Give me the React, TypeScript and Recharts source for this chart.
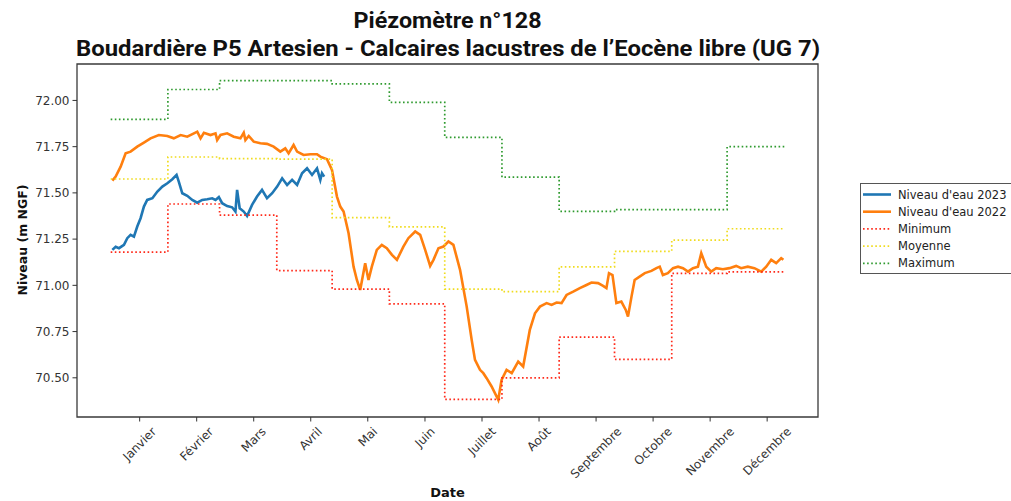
import React from "react";
import { LineChart, Line, XAxis, YAxis, ReferenceArea } from "recharts";

// ---- Data (x = day of year, 0 = 1 January) ----
const monthLabels = ["Janvier", "Février", "Mars", "Avril", "Mai", "Juin", "Juillet", "Août", "Septembre", "Octobre", "Novembre", "Décembre"];
const tickDays = [15.7, 46.6, 77.5, 108.4, 139.3, 170.3, 201.2, 232.1, 263.0, 293.9, 324.8, 355.7];
const monthStartDays = [0, 31, 59, 90, 120, 151, 181, 212, 243, 273, 304, 334, 365];

const minValues = [71.18, 71.44, 71.38, 71.08, 70.98, 70.90, 70.383, 70.50, 70.72, 70.60, 71.065, 71.073];
const meanValues = [71.575, 71.694, 71.685, 71.683, 71.366, 71.316, 70.98, 70.966, 71.10, 71.184, 71.244, 71.306];
const maxValues = [71.898, 72.059, 72.107, 72.107, 72.09, 71.99, 71.80, 71.585, 71.40, 71.41, 71.41, 71.75];

const level2022Days = [0.9, 2.7, 5.4, 8.1, 10.8, 14.4, 18.0, 21.6, 26.1, 30.7, 34.2, 37.9, 41.5, 45.1, 46.9, 48.7, 50.5, 54.1, 56.8, 57.7, 59.5, 63.1, 66.7, 70.3, 72.1, 73.0, 74.8, 77.5, 81.1, 84.7, 88.3, 91.9, 94.6, 96.4, 99.1, 101.0, 104.5, 108.2, 111.8, 113.6, 117.2, 119.9, 122.6, 124.4, 126.2, 128.9, 131.6, 133.4, 135.2, 137.9, 139.7, 141.5, 144.2, 146.9, 149.6, 152.4, 155.1, 158.6, 161.3, 165.0, 167.7, 170.4, 173.1, 174.9, 177.6, 180.3, 183.0, 185.7, 189.3, 192.9, 195.6, 197.4, 200.1, 201.9, 203.7, 206.4, 210.0, 211.8, 214.5, 217.3, 220.8, 223.5, 227.1, 229.9, 232.6, 236.2, 238.9, 241.6, 244.3, 247.0, 250.6, 254.2, 257.8, 260.5, 264.1, 266.8, 268.6, 270.0, 271.9, 274.0, 276.7, 279.1, 280.3, 282.2, 283.9, 286.6, 289.4, 293.0, 295.7, 297.5, 299.2, 301.9, 304.7, 307.4, 310.1, 312.8, 315.5, 318.2, 320.0, 322.7, 325.4, 328.1, 331.7, 335.3, 338.9, 341.6, 345.2, 348.8, 352.5, 355.2, 357.9, 360.6, 363.3, 364.5];
const level2022Values = [71.566, 71.588, 71.642, 71.714, 71.723, 71.75, 71.772, 71.795, 71.813, 71.808, 71.795, 71.813, 71.804, 71.822, 71.831, 71.795, 71.825, 71.813, 71.822, 71.786, 71.813, 71.822, 71.804, 71.795, 71.825, 71.786, 71.808, 71.777, 71.768, 71.765, 71.75, 71.723, 71.741, 71.714, 71.759, 71.723, 71.705, 71.709, 71.709, 71.696, 71.682, 71.624, 71.48, 71.426, 71.399, 71.282, 71.101, 71.029, 70.975, 71.12, 71.029, 71.101, 71.192, 71.219, 71.201, 71.165, 71.138, 71.209, 71.255, 71.291, 71.273, 71.192, 71.105, 71.138, 71.201, 71.21, 71.237, 71.219, 71.084, 70.885, 70.705, 70.597, 70.543, 70.525, 70.498, 70.453, 70.381, 70.489, 70.543, 70.525, 70.588, 70.561, 70.759, 70.849, 70.885, 70.904, 70.894, 70.907, 70.904, 70.948, 70.966, 70.985, 71.002, 71.015, 71.012, 70.997, 70.985, 71.066, 71.056, 70.904, 70.912, 70.867, 70.831, 70.939, 71.029, 71.047, 71.066, 71.078, 71.093, 71.101, 71.056, 71.066, 71.093, 71.101, 71.093, 71.074, 71.093, 71.101, 71.174, 71.101, 71.074, 71.093, 71.087, 71.093, 71.105, 71.093, 71.101, 71.093, 71.074, 71.101, 71.138, 71.12, 71.147, 71.138];

const level2023Days = [0.9, 2.7, 4.5, 7.2, 9.0, 10.8, 12.6, 14.4, 16.2, 18.0, 19.8, 22.6, 25.3, 28.0, 30.7, 33.4, 35.7, 36.9, 38.8, 41.5, 44.2, 46.9, 49.6, 52.3, 55.0, 56.8, 58.6, 60.4, 63.1, 65.8, 67.6, 68.5, 69.9, 72.1, 73.9, 76.6, 79.3, 82.0, 84.7, 87.5, 90.2, 92.9, 95.6, 98.3, 101.0, 103.7, 106.4, 109.1, 111.8, 113.6, 114.5, 115.7];
const level2023Values = [71.192, 71.209, 71.201, 71.219, 71.255, 71.273, 71.263, 71.318, 71.363, 71.426, 71.462, 71.471, 71.507, 71.534, 71.552, 71.574, 71.597, 71.561, 71.498, 71.484, 71.462, 71.447, 71.462, 71.466, 71.471, 71.462, 71.477, 71.444, 71.429, 71.422, 71.399, 71.516, 71.417, 71.399, 71.375, 71.435, 71.48, 71.516, 71.471, 71.498, 71.534, 71.579, 71.543, 71.57, 71.543, 71.606, 71.633, 71.597, 71.633, 71.57, 71.606, 71.588];

const yTicks = [70.5, 70.75, 71.0, 71.25, 71.5, 71.75, 72.0];
const xDomain: [number, number] = [-18.25, 383.25];
const yDomain: [number, number] = [70.288, 72.197];

// ---- build series ----
const toPoints = (xs: number[], ys: number[]) => xs.map((d, i) => ({ d, v: ys[i] }));
const toSteps = (vals: number[]) =>
  monthStartDays.map((d, i) => ({ d, v: vals[Math.min(i, vals.length - 1)] }));

const data2022 = toPoints(level2022Days, level2022Values);
const data2023 = toPoints(level2023Days, level2023Values);
const dataMin = toSteps(minValues);
const dataMean = toSteps(meanValues);
const dataMax = toSteps(maxValues);

const C_BLUE = "#1f77b4";
const C_ORANGE = "#ff7f0e";
const C_RED = "#ff2a1a";
const C_YELLOW = "#f0dc1e";
const C_GREEN = "#2e9a2e";

const TICK_FS = 12;
const TICK_FONT = `"DejaVu Sans", sans-serif`;

let measureCtx: CanvasRenderingContext2D | null = null;
const measure = (s: string) => {
  if (!measureCtx) {
    const c = document.createElement("canvas");
    measureCtx = c.getContext("2d");
  }
  if (!measureCtx) return s.length * TICK_FS * 0.6;
  measureCtx.font = `${TICK_FS}px "DejaVu Sans"`;
  return measureCtx.measureText(s).width;
};

const XTick = (props: any) => {
  const { x, y, payload } = props;
  const idx = tickDays.indexOf(payload.value);
  const label = idx >= 0 ? monthLabels[idx] : "";
  const w = measure(label);
  const h = TICK_FS * 1.17;
  const boxH = (w + h) * Math.SQRT1_2;
  const cy = y + boxH / 2;
  return (
    <text
      x={x}
      y={cy}
      textAnchor="middle"
      dominantBaseline="central"
      fontSize={TICK_FS}
      fontFamily={TICK_FONT}
      fill="#333"
      transform={`rotate(-45, ${x}, ${cy})`}
    >
      {label}
    </text>
  );
};

const legendItems = [
  { label: "Niveau d'eau 2023", color: C_BLUE, dotted: false },
  { label: "Niveau d'eau 2022", color: C_ORANGE, dotted: false },
  { label: "Minimum", color: C_RED, dotted: true },
  { label: "Moyenne", color: C_YELLOW, dotted: true },
  { label: "Maximum", color: C_GREEN, dotted: true },
];

export default function App() {
  return (
    <div style={{ position: "absolute", left: 0, top: 0, width: 1011, height: 501, overflow: "hidden", background: "#fff" }}>
      <LineChart
        width={1011}
        height={501}
        margin={{ top: 64, right: 193, bottom: 0, left: 17 }}
      >
        <XAxis
          dataKey="d"
          type="number"
          domain={xDomain}
          ticks={tickDays}
          allowDataOverflow
          height={84}
          axisLine={false}
          tickLine={{ stroke: "#333", strokeWidth: 1 }}
          tickSize={4.5}
          tickMargin={3}
          tick={<XTick />}
          interval={0}
        />
        <YAxis
          type="number"
          domain={yDomain}
          ticks={yTicks}
          allowDataOverflow
          width={60}
          axisLine={false}
          tickLine={{ stroke: "#333", strokeWidth: 1 }}
          tickSize={4.5}
          tickMargin={3}
          tickFormatter={(v: number) => v.toFixed(2)}
          tick={{ fontSize: TICK_FS, fontFamily: TICK_FONT, fill: "#333" }}
          interval={0}
        />
        <ReferenceArea
          x1={xDomain[0]}
          x2={xDomain[1]}
          y1={yDomain[0]}
          y2={yDomain[1]}
          fill="none"
          fillOpacity={0}
          stroke="#3a3a3a"
          strokeWidth={1.3}
        />
        <Line data={data2023} dataKey="v" type="linear" stroke={C_BLUE} strokeWidth={2.6} dot={false} isAnimationActive={false} />
        <Line data={data2022} dataKey="v" type="linear" stroke={C_ORANGE} strokeWidth={2.6} dot={false} isAnimationActive={false} />
        <Line data={dataMin} dataKey="v" type="stepAfter" stroke={C_RED} strokeWidth={1.7} strokeDasharray="1.6 2.5" dot={false} isAnimationActive={false} />
        <Line data={dataMean} dataKey="v" type="stepAfter" stroke={C_YELLOW} strokeWidth={1.7} strokeDasharray="1.6 2.5" dot={false} isAnimationActive={false} />
        <Line data={dataMax} dataKey="v" type="stepAfter" stroke={C_GREEN} strokeWidth={1.7} strokeDasharray="1.6 2.5" dot={false} isAnimationActive={false} />
      </LineChart>

      <svg width={1011} height={501} style={{ position: "absolute", left: 0, top: 0, pointerEvents: "none" }}>
        <text x={447.5} y={28} textAnchor="middle" fontFamily="Roboto, sans-serif" fontWeight="bold" fontSize={22} textLength={188} lengthAdjust="spacingAndGlyphs" fill="#111">
          Piézomètre n°128
        </text>
        <text x={448} y={56} textAnchor="middle" fontFamily="Roboto, sans-serif" fontWeight="bold" fontSize={22} textLength={744} lengthAdjust="spacingAndGlyphs" fill="#111">
          Boudardière P5 Artesien - Calcaires lacustres de l’Eocène libre (UG 7)
        </text>
        <text x={22} y={240} textAnchor="middle" dominantBaseline="central" fontFamily={TICK_FONT} fontWeight="bold" fontSize={12.5} fill="#111" transform="rotate(-90, 22, 240)">
          Niveau (m NGF)
        </text>
        <text x={447.5} y={492} textAnchor="middle" dominantBaseline="central" fontFamily={TICK_FONT} fontWeight="bold" fontSize={13} fill="#111">
          Date
        </text>
        <g>
          <rect x={860.5} y={183.5} width={170} height={90} fill="#fff" stroke="#555" strokeWidth={1} />
          {legendItems.map((it, i) => {
            const cy = 194.5 + i * 17.2;
            return (
              <g key={it.label}>
                <line
                  x1={863}
                  x2={891}
                  y1={cy}
                  y2={cy}
                  stroke={it.color}
                  strokeWidth={it.dotted ? 1.7 : 2.6}
                  strokeDasharray={it.dotted ? "1.6 2.5" : undefined}
                />
                <text x={898} y={cy} dominantBaseline="central" fontFamily={TICK_FONT} fontSize={11.5} fill="#222">
                  {it.label}
                </text>
              </g>
            );
          })}
        </g>
      </svg>
    </div>
  );
}
